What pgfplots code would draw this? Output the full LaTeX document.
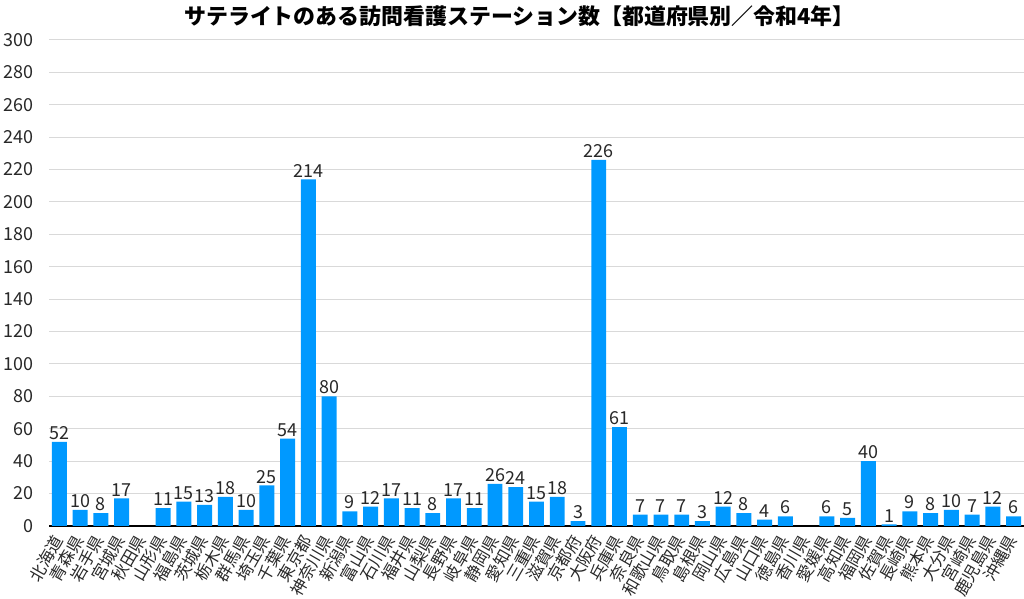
\documentclass[border=0pt]{standalone}
\usepackage{pgfplots}
\pgfplotsset{compat=1.18}
\usepackage{fontspec}
\setmainfont{Noto Sans CJK JP}
\definecolor{barblue}{RGB}{0,153,255}
\definecolor{txt}{RGB}{40,40,40}
\begin{document}
\begin{tikzpicture}
\path[use as bounding box] (0,0) rectangle (1024bp,599bp);
\begin{axis}[
  at={(49bp,73bp)}, anchor=south west,
  scale only axis, width=975bp, height=486bp,
  xmin=-0.5, xmax=46.5, ymin=0, ymax=300,
  ytick distance=20,
  ymajorgrids, grid style={draw=black!15, line width=1bp},
  axis x line*=bottom, axis y line*=left,
  y axis line style={draw=none},
  x axis line style={draw=black, line width=1.6bp, -},
  tick style={draw=none},
  /pgf/number format/assume math mode=true,
  yticklabel style={font=\fontsize{18}{18}\selectfont, text=txt, xshift=-12bp},
  xtick=data,
  xticklabels={北海道,青森県,岩手県,宮城県,秋田県,山形県,福島県,茨城県,栃木県,群馬県,埼玉県,千葉県,東京都,神奈川県,新潟県,富山県,石川県,福井県,山梨県,長野県,岐阜県,静岡県,愛知県,三重県,滋賀県,京都府,大阪府,兵庫県,奈良県,和歌山県,鳥取県,島根県,岡山県,広島県,山口県,徳島県,香川県,愛媛県,高知県,福岡県,佐賀県,長崎県,熊本県,大分県,宮崎県,鹿児島県,沖縄県},
  xticklabel style={font=\fontsize{16.5}{16.5}\selectfont, text=txt, yshift=-11bp, xshift=-1bp, rotate=60, anchor=east, inner sep=0bp},
  title={サテライトのある訪問看護ステーション数【都道府県別／令和4年】},
  title style={at={(0.5,1)}, anchor=center, yshift=18bp, xshift=-17bp, font=\bfseries\fontsize{22}{22}\selectfont, text=black},
  nodes near coords={\pgfmathfloatifflags{\pgfplotspointmeta}{0}{}{\pgfmathprintnumber{\pgfplotspointmeta}}},
  nodes near coords style={font=\fontsize{18}{18}\selectfont, text=txt, inner sep=2bp, anchor=south},
]
\addplot[ybar, bar width=0.72, fill=barblue, draw=none] coordinates {
(0,52) (1,10) (2,8) (3,17) (4,0) (5,11) (6,15) (7,13) (8,18) (9,10)
(10,25) (11,54) (12,214) (13,80) (14,9) (15,12) (16,17) (17,11) (18,8) (19,17)
(20,11) (21,26) (22,24) (23,15) (24,18) (25,3) (26,226) (27,61) (28,7) (29,7)
(30,7) (31,3) (32,12) (33,8) (34,4) (35,6) (36,0) (37,6) (38,5) (39,40)
(40,1) (41,9) (42,8) (43,10) (44,7) (45,12) (46,6)
};
\end{axis}
\end{tikzpicture}
\end{document}
